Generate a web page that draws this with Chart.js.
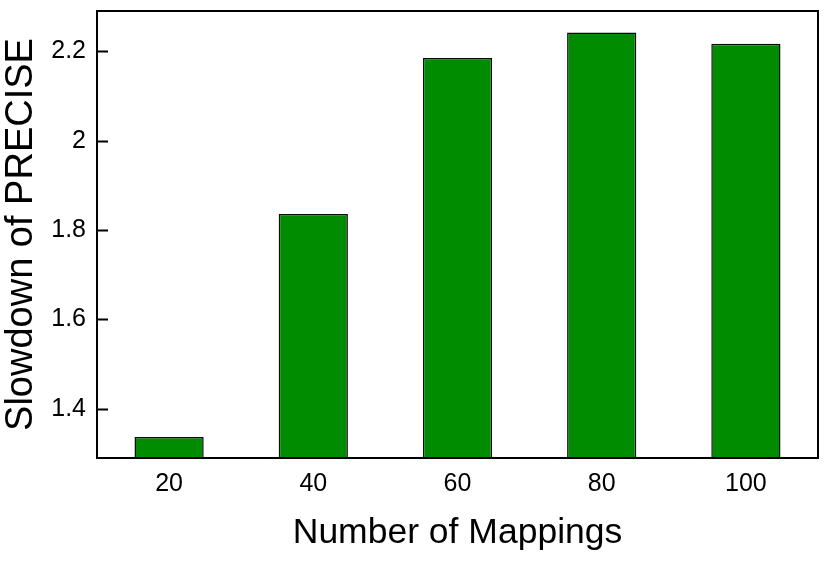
<!DOCTYPE html>
<html>
<head>
<meta charset="utf-8">
<script src="https://cdn.jsdelivr.net/npm/chart.js@4"></script>
<style>
  html, body { margin: 0; padding: 0; background: #fff; }
  #wrap { width: 830px; height: 573px; }
</style>
</head>
<body>
<div id="wrap"><canvas id="grafico"></canvas></div>
<script>
// data
const mapeamentos = ["20", "40", "60", "80", "100"];
const lentidao = [1.337, 1.836, 2.185, 2.242, 2.217];
const ticksY = [1.4, 1.6, 1.8, 2.0, 2.2];

const fonte = "'Liberation Sans', Arial, Helvetica, sans-serif";

/* moldura + tiques para dentro */
const moldura = {
    id: "moldura",
    afterDraw(chart) {
        const ctx = chart.ctx;
        const a = chart.chartArea;
        const y = chart.scales.y;
        ctx.save();
        ctx.strokeStyle = "#000";
        ctx.lineWidth = 2;
        ctx.strokeRect(a.left, a.top, a.right - a.left, a.bottom - a.top);
        ticksY.forEach(v => {
            const py = Math.round(y.getPixelForValue(v)) + 0.5;
            ctx.beginPath();
            ctx.moveTo(a.left, py);
            ctx.lineTo(a.left + 11, py);
            ctx.stroke();
        });
        ctx.restore();
    }
};

new Chart(document.getElementById("grafico"), {
    type: "bar",
    data: {
        labels: mapeamentos,
        datasets: [{
            data: lentidao,
            backgroundColor: "#008c00",
            borderColor: "#0a0a0a",
            borderWidth: 1.5,
            categoryPercentage: 1,
            barPercentage: 0.48
        }]
    },
    options: {
        responsive: true,
        maintainAspectRatio: false,
        animation: false,
        layout: { padding: { top: 11, right: 12, left: 0, bottom: 0 } },
        plugins: { legend: { display: false }, tooltip: { enabled: false } },
        scales: {
            x: {
                grid: { display: false, drawTicks: false },
                border: { display: false },
                ticks: { color: "#000", font: { family: fonte, size: 25 }, padding: 11 },
                title: {
                    display: true, text: "Number of Mappings", color: "#000",
                    font: { family: fonte, size: 35.5 }, padding: { top: 12, bottom: 18 }
                },
                afterFit(s) { s.height = 115; s.paddingLeft = 0; s.paddingRight = 0; }
            },
            y: {
                min: 1.29, max: 2.29,
                afterBuildTicks(s) { s.ticks = ticksY.map(v => ({ value: v })); },
                grid: { display: false, drawTicks: false },
                border: { display: false },
                ticks: {
                    color: "#000", font: { family: fonte, size: 25 }, padding: 11,
                    callback: v => String(Math.round(v * 10) / 10)
                },
                title: {
                    display: true, text: "Slowdown of PRECISE", color: "#000",
                    font: { family: fonte, size: 38 }, padding: { top: -1, bottom: 10 }
                },
                afterFit(s) { s.width = 97; s.paddingTop = 0; s.paddingBottom = 0; }
            }
        }
    },
    plugins: [moldura]
});
</script>
</body>
</html>
